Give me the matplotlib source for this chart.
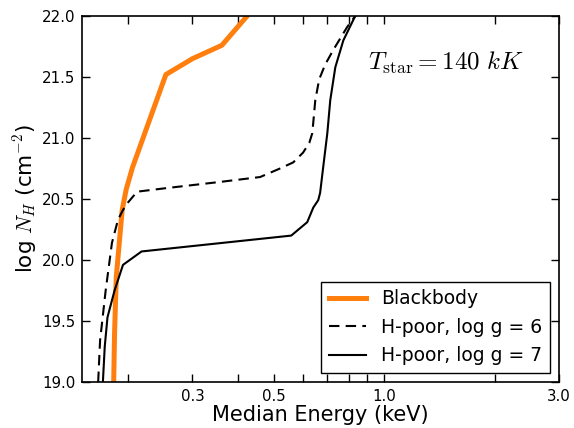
import numpy as np
import matplotlib
matplotlib.use("Agg")
from matplotlib import pyplot as plt
from matplotlib.ticker import FixedLocator, FixedFormatter, NullLocator

plt.rcParams['mathtext.fontset'] = 'cm'

# blackbody curve
bb_e = [0.183, 0.184, 0.186, 0.193, 0.198, 0.206, 0.245, 0.254, 0.300, 0.361, 0.423, 0.44]
bb_nh = [19.0, 19.40, 19.86, 20.41, 20.58, 20.76, 21.39, 21.52, 21.65, 21.76, 22.0, 22.1]

# H-poor, log g = 6
g6_e = [0.166, 0.168, 0.174, 0.181, 0.188, 0.194, 0.200, 0.212, 0.256, 0.357, 0.459,
        0.520, 0.565, 0.601, 0.625, 0.637, 0.649, 0.665, 0.690, 0.726, 0.793, 0.834, 0.85]
g6_nh = [19.0, 19.34, 19.75, 20.14, 20.33, 20.41, 20.47, 20.56, 20.59, 20.64, 20.68,
         20.75, 20.80, 20.88, 20.96, 21.04, 21.31, 21.48, 21.60, 21.72, 21.91, 22.0, 22.05]

# H-poor, log g = 7
g7_e = [0.171, 0.173, 0.176, 0.184, 0.194, 0.218, 0.558, 0.617, 0.641, 0.661, 0.669,
        0.682, 0.700, 0.713, 0.736, 0.774, 0.834, 0.85]
g7_nh = [19.0, 19.29, 19.53, 19.75, 19.96, 20.07, 20.20, 20.31, 20.43, 20.49, 20.55,
         20.76, 21.04, 21.31, 21.58, 21.80, 22.0, 22.05]

xticks = [0.2, 0.3, 0.4, 0.5, 0.6, 0.7, 0.8, 0.9, 1.0, 2.0, 3.0]
xlabels = ['', '0.3', '', '0.5', '', '', '', '', '1.0', '', '3.0']
yticks = [19.0, 19.5, 20.0, 20.5, 21.0, 21.5, 22.0]

fig = plt.figure(figsize=(5.74, 4.28), dpi=100)
ax = fig.add_axes([0.1429, 0.1075, 0.8311, 0.8551])

ax.plot(bb_e, bb_nh, color='#ff7f0e', lw=3.6, label='Blackbody')
ax.plot(g6_e, g6_nh, color='black', lw=1.5, ls=(0, (5, 3)), label='H-poor, log g = 6')
ax.plot(g7_e, g7_nh, color='black', lw=1.5, label='H-poor, log g = 7')

ax.set_xscale('log')
ax.set_xlim(0.15, 3.0)
ax.set_ylim(19.0, 22.0)
ax.xaxis.set_major_locator(FixedLocator(xticks))
ax.xaxis.set_major_formatter(FixedFormatter(xlabels))
ax.xaxis.set_minor_locator(NullLocator())
ax.set_yticks(yticks)
ax.set_yticklabels(['%.1f' % v for v in yticks])
ax.tick_params(direction='in', length=6, width=1, labelsize=10.8,
               top=True, right=True, pad=5)
for s in ax.spines.values():
    s.set_linewidth(1.2)

ax.set_xlabel('Median Energy (keV)', fontsize=15, labelpad=1)
ax.set_ylabel(r'log $N_H$ (cm$^{-2}$)', fontsize=15.5, labelpad=2)

ax.text(0.60, 0.872, r'$T_{\rm star} = 140\ kK$', transform=ax.transAxes,
        fontsize=18, va='center', ha='left')

leg = ax.legend(loc='lower right', fontsize=13.5, fancybox=False, framealpha=1,
                edgecolor='black', borderaxespad=0.5, handlelength=2.0)
leg.get_frame().set_linewidth(1.0)

fig.savefig('out.png', dpi=100)
